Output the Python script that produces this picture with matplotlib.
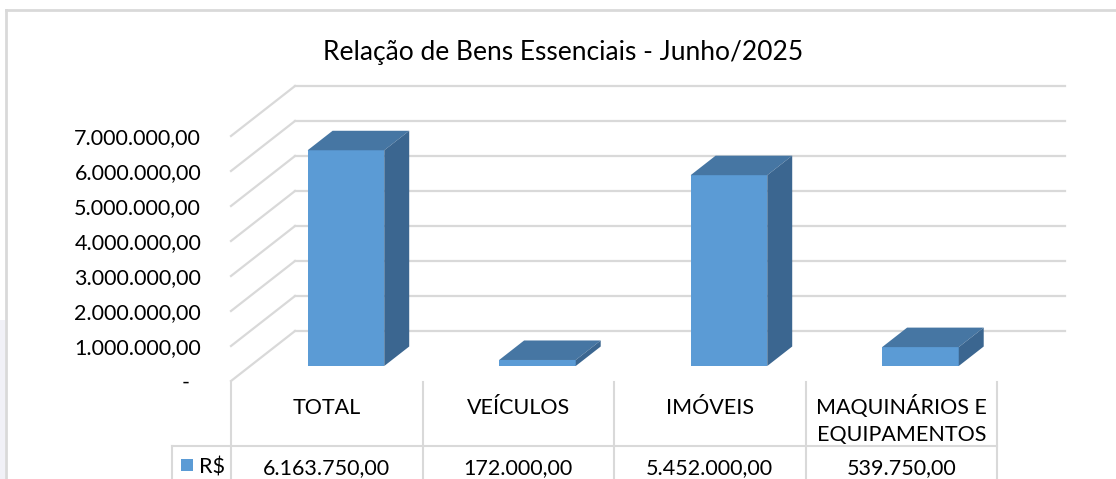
import matplotlib.pyplot as plt
from matplotlib.patches import Polygon, Rectangle
from matplotlib.transforms import blended_transform_factory

categories = ["TOTAL", "VEÍCULOS", "IMÓVEIS", "MAQUINÁRIOS E\nEQUIPAMENTOS"]
values = [6163750.00, 172000.00, 5452000.00, 539750.00]
yticks = [0, 1e6, 2e6, 3e6, 4e6, 5e6, 6e6, 7e6]
series_name = "R$"
title = "Relação de Bens Essenciais - Junho/2025"


def brl(v):
    # formato contábil brasileiro, zero vira "-"
    if v == 0:
        return "-  "
    s = f"{v:,.2f}"
    return s.replace(",", "X").replace(".", ",").replace("X", ".")


W, H = 1116, 479
FONT = "Lato"
GRID = "#D9D9D9"
FRONT = "#5B9BD5"
TOP = "#4676A3"
SIDE = "#3B6690"

fig = plt.figure(figsize=(W / 100, H / 100), dpi=100)
fig.patch.set_facecolor("white")

# axes = plano frontal do grafico 3D (categorias 0..4, valores 0..7M)
ax = fig.add_axes([231 / W, 1 - 381 / H, (997 - 231) / W, (381 - 136) / H])
ax.set_xlim(0, len(categories))
ax.set_ylim(0, 7e6)
for s in ax.spines.values():
    s.set_visible(False)
ax.set_xticks([])

# profundidade do "piso" (em unidades de dados)
DX = 64 / 191.5
DY = 50 / 35 * 1e6
n = len(categories)

# paredes: diagonais laterais + linhas de grade da parede do fundo
for v in yticks:
    ax.plot([0, DX], [v, v + DY], color=GRID, lw=1.6, clip_on=False, zorder=1)
    ax.plot([DX, n + DX + 0.02], [v + DY, v + DY], color=GRID, lw=1.6,
            clip_on=False, zorder=1)

# barras 3D
d0, d1, bw = 0.30, 0.69, 0.40
ox, oy = (d1 - d0) * DX, (d1 - d0) * DY
for i, v in enumerate(values):
    x0 = i + 0.5 - bw / 2 + d0 * DX
    x1 = x0 + bw
    y0 = d0 * DY
    y1 = v + d0 * DY
    ax.bar(x0, v, width=bw, bottom=y0, align="edge", color=FRONT,
           clip_on=False, zorder=3)
    ax.add_patch(Polygon([(x0, y1), (x1, y1), (x1 + ox, y1 + oy), (x0 + ox, y1 + oy)],
                         closed=True, facecolor=TOP, edgecolor="none",
                         clip_on=False, zorder=3))
    ax.add_patch(Polygon([(x1, y0), (x1, y1), (x1 + ox, y1 + oy), (x1 + ox, y0 + oy)],
                         closed=True, facecolor=SIDE, edgecolor="none",
                         clip_on=False, zorder=3))

ax.set_yticks(yticks)
ax.set_yticklabels([brl(v) for v in yticks], fontsize=15.5, family=FONT)
ax.tick_params(axis="y", length=0, pad=21.5)

# tabela de dados embaixo
def fy(px):
    return 1 - px / H

tr = blended_transform_factory(ax.transData, fig.transFigure)
trf = fig.transFigure
line_kw = dict(color=GRID, lw=1.5, clip_on=False)
for k in range(n + 1):
    ax.plot([k, k], [fy(382), fy(479)], transform=tr, **line_kw)
ax.plot([172 / W, 172 / W], [fy(446), fy(479)], transform=trf, **line_kw)
ax.plot([172 / W, 997 / W], [fy(446), fy(446)], transform=trf, **line_kw)

for i, (c, v) in enumerate(zip(categories, values)):
    for j, part in enumerate(c.split("\n")):
        ax.text(i + 0.5, fy(414 + 27 * j), part, transform=tr, ha="center",
                va="baseline", fontsize=15.5, family=FONT)
    ax.text(i + 0.5, fy(474), brl(v), transform=tr, ha="center", va="baseline",
            fontsize=15.5, family=FONT)

fig.patches.append(Rectangle((181 / W, fy(471)), 12 / W, 12 / H, transform=trf,
                             facecolor=FRONT, edgecolor="none"))
fig.text(199 / W, fy(474), series_name, ha="left", va="baseline",
         fontsize=15.5, family=FONT)

fig.text(563 / W, fy(60), title, ha="center", va="baseline",
         fontsize=19, family=FONT)

# moldura do grafico
fig.add_artist(plt.Line2D([6 / W, 6 / W], [fy(10), 0], transform=trf,
                          color=GRID, lw=2))
fig.add_artist(plt.Line2D([6 / W, 1], [fy(10), fy(10)], transform=trf,
                          color=GRID, lw=2))
fig.patches.append(Rectangle((0, 0), 5 / W, (479 - 320) / H, transform=trf,
                             facecolor="#F1F1F7", edgecolor="none"))

fig.savefig("out.png", dpi=100)
